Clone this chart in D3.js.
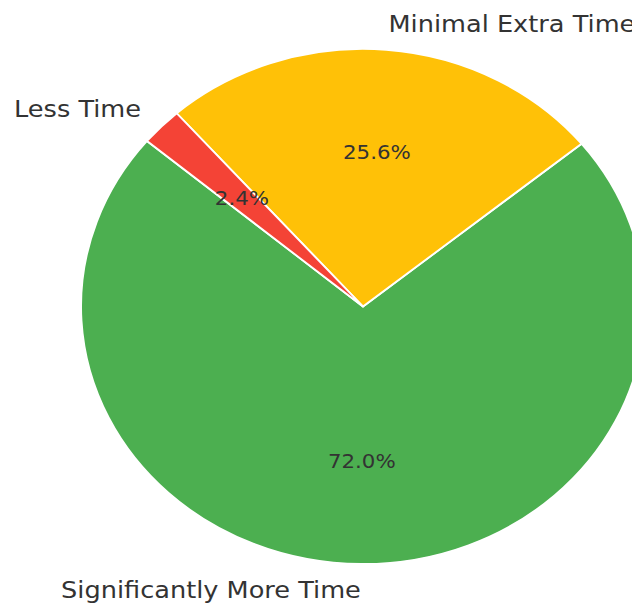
<!DOCTYPE html>
<html>
<head>
<meta charset="utf-8">
<script src="https://cdn.jsdelivr.net/npm/d3@7"></script>
<style>
  html, body { margin: 0; padding: 0; background: #fff; }
  svg { display: block; }
  text { font-family: "DejaVu Sans", sans-serif; fill: #333; }
</style>
</head>
<body>
<svg id="chart" width="632" height="606"></svg>
<script>
// Data (matplotlib order, counter-clockwise from startangle 140°)
const categories = ["Significantly More Time", "Minimal Extra Time", "Less Time"];
const values = [72.0, 25.6, 2.4];
const colors = ["#4CAF50", "#FFC107", "#F44336"];
const startAngleDeg = 140;

const W = 632, H = 606;
const cx = 363, cy = 306.5;
const ry = 257.5, rx = 282;
const sx = rx / ry;

const svg = d3.select("#chart");
const g = svg.append("g").attr("transform", `translate(${cx},${cy}) scale(${sx},1)`);

const toRad = d => d * Math.PI / 180;
// matplotlib angle θ (CCW from +x) → d3 angle (CW from 12 o'clock) = 90° − θ
const a0 = toRad(90 - startAngleDeg);
const pie = d3.pie().sort(null).value(d => d.v).startAngle(a0).endAngle(a0 - 2 * Math.PI);
const data = categories.map((c, i) => ({ c, v: values[i], col: colors[i] }));
const arcs = pie(data);
const total = d3.sum(values);

const arc = d3.arc().innerRadius(0).outerRadius(ry);

g.selectAll("path.slice").data(arcs).enter().append("path")
  .attr("class", "slice")
  .attr("d", arc)
  .attr("fill", d => d.data.col)
  .attr("stroke", "#fff")
  .attr("stroke-width", 1.8)
  .attr("stroke-linejoin", "round");

function pos(d, f) {
  const a = (d.startAngle + d.endAngle) / 2;
  return [f * ry * Math.sin(a), -f * ry * Math.cos(a)];
}

// Category labels at 1.1 r
g.selectAll("text.lab").data(arcs).enter().append("text")
  .attr("class", "lab")
  .attr("x", d => pos(d, 1.1)[0])
  .attr("y", d => pos(d, 1.1)[1])
  .attr("text-anchor", d => pos(d, 1.1)[0] < 0 ? "end" : "start")
  .attr("dominant-baseline", "central")
  .style("font-size", "23.4px")
  .text(d => d.data.c);

// Percent labels at 0.6 r
g.selectAll("text.pct").data(arcs).enter().append("text")
  .attr("class", "pct")
  .attr("x", d => pos(d, 0.6)[0])
  .attr("y", d => pos(d, 0.6)[1])
  .attr("text-anchor", "middle")
  .attr("dominant-baseline", "central")
  .style("font-size", "19.5px")
  .text(d => (d.data.v / total * 100).toFixed(1) + "%");
</script>
</body>
</html>
